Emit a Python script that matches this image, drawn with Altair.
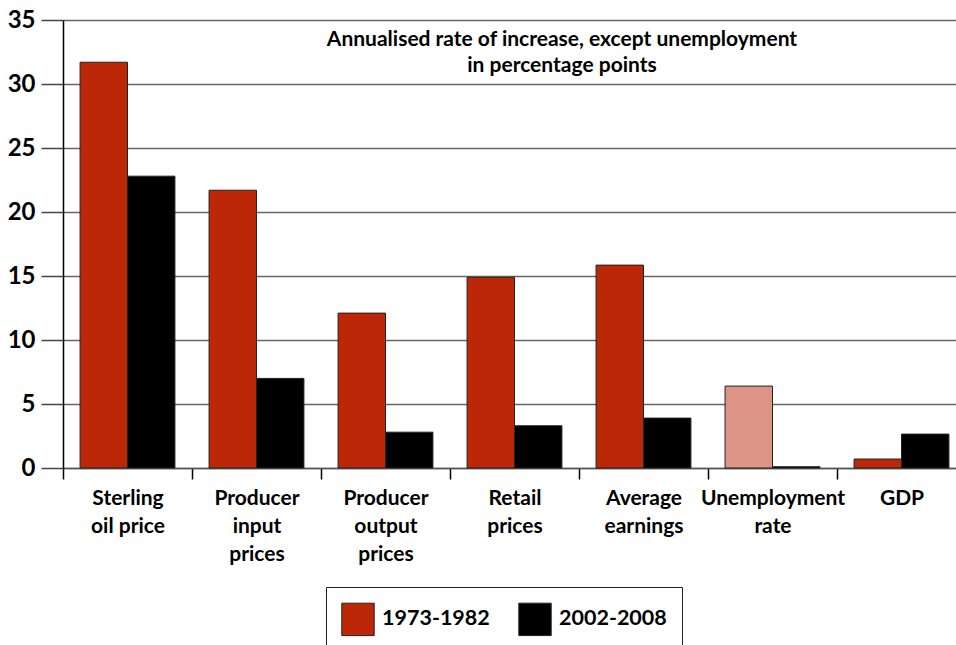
import altair as alt
import pandas as pd

categories = ["Sterling|oil price", "Producer|input|prices", "Producer|output|prices",
              "Retail|prices", "Average|earnings", "Unemployment|rate", "GDP"]
series = ["1973-1982", "2002-2008"]
v_1973_1982 = [31.7, 21.7, 12.1, 14.9, 15.85, 6.4, 0.7]
v_2002_2008 = [22.8, 7.0, 2.8, 3.3, 3.9, 0.1, 2.65]
title_lines = ["Annualised rate of increase, except unemployment", "in percentage points"]

rows = []
for c, a, b in zip(categories, v_1973_1982, v_2002_2008):
    key_a = "1973-1982 (rate)" if c.startswith("Unemployment") else "1973-1982"
    rows.append({"cat": c, "series": "1973-1982", "key": key_a, "value": a})
    rows.append({"cat": c, "series": "2002-2008", "key": "2002-2008", "value": b})
df = pd.DataFrame(rows)

FONT = "Lato"

bars = alt.Chart(df).mark_bar(stroke="#222222", strokeWidth=1).encode(
    x=alt.X("cat:N", sort=categories, title=None,
            scale=alt.Scale(paddingInner=0, paddingOuter=0, range=[0, 903]),
            axis=alt.Axis(labelExpr="datum.value ? split(datum.value, '|') : ''", labelAngle=0,
                          labelFontSize=21, labelFont=FONT, labelFontWeight="bold",
                          labelColor="black", labelLineHeight=28, labelPadding=8,
                          tickBand="extent", tickSize=11, tickColor="black", tickWidth=1.5,
                          domainColor="#555555", domainWidth=1.5, grid=False)),
    xOffset=alt.XOffset("series:N", sort=series,
                        scale=alt.Scale(paddingInner=0, paddingOuter=0.36)),
    y=alt.Y("value:Q", title=None,
            scale=alt.Scale(domain=[0, 35], nice=False),
            axis=alt.Axis(values=[0, 5, 10, 15, 20, 25, 30, 35], tickSize=22,
                          tickColor="#444444", tickWidth=1.5, labelPadding=6,
                          labelFontSize=24, labelFont=FONT, labelFontWeight="bold",
                          labelColor="black", domainColor="black", domainWidth=1.5,
                          gridColor="#666666", gridWidth=1.5)),
    color=alt.Color("key:N",
                    scale=alt.Scale(domain=["1973-1982", "2002-2008", "1973-1982 (rate)"],
                                    range=["#BC2708", "#000000", "#DC9484"]),
                    legend=alt.Legend(values=["1973-1982", "2002-2008"], title=None,
                                      orient="none", legendX=263, legendY=567,
                                      direction="horizontal", symbolType="square",
                                      symbolSize=1050, symbolStrokeColor="#222222",
                                      symbolStrokeWidth=1, labelFontSize=21.5,
                                      labelFont=FONT, labelFontWeight="bold",
                                      labelColor="black", labelOffset=7,
                                      columnPadding=26, padding=15,
                                      strokeColor="#222222")),
)

title_df = pd.DataFrame({"t": [title_lines]})
title = alt.Chart(title_df).mark_text(font=FONT, fontWeight="bold", fontSize=21,
                                      baseline="top", align="center", lineHeight=26,
                                      color="black").encode(
    x=alt.value(499), y=alt.value(9), text="t")

chart = alt.layer(bars, title).properties(
    width=893, height=448,
    autosize=alt.AutoSizeParams(type="none"),
    padding={"left": 63, "top": 20, "right": 0, "bottom": 177},
).configure_view(stroke=None).configure(background="white")

chart.save("out.html", embed_options={"renderer": "svg", "actions": False})
